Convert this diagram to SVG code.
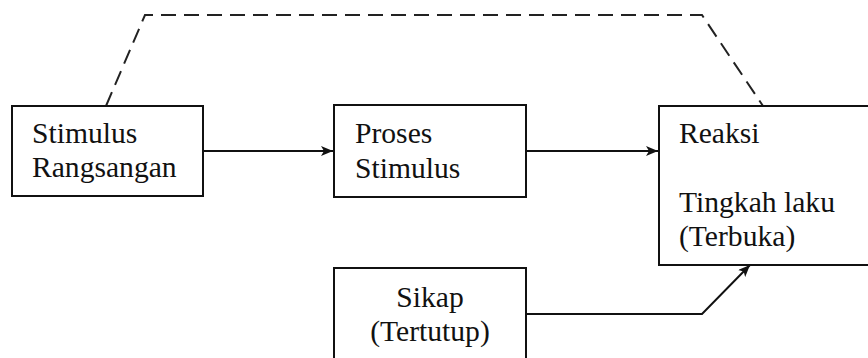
<svg xmlns="http://www.w3.org/2000/svg" width="868" height="358" viewBox="0 0 868 358">
<defs>
<style>
.box{fill:#fff;stroke:#111;stroke-width:2}
.t{font-family:"Liberation Serif","Times New Roman",serif;font-size:29.6px;fill:#111}
.c{fill:none;stroke:#111;stroke-width:2}
.d{fill:none;stroke:#222;stroke-width:2;stroke-dasharray:15 8}
</style>
<marker id="ah" viewBox="0 0 12 10" refX="12" refY="5" markerWidth="12" markerHeight="10" markerUnits="userSpaceOnUse" orient="auto">
<path d="M0,0 L12,5 L0,10 L3,5 Z" fill="#111"/>
</marker>
</defs>
<g id="connectors">
<path class="d" d="M106,106 L145,15 L702,15 L763,106"/>
<path class="c" d="M203,151 L333,151" marker-end="url(#ah)"/>
<path class="c" d="M526,151 L658,151" marker-end="url(#ah)"/>
<path class="c" d="M526,314 L702,314 L750,265" marker-end="url(#ah)"/>
</g>
<g id="stimulus">
<rect class="box" x="12" y="106" width="191" height="90"/>
<text class="t" x="32" y="143">Stimulus</text>
<text class="t" x="32" y="177">Rangsangan</text>
</g>
<g id="proses">
<rect class="box" x="334" y="105" width="192" height="92"/>
<text class="t" x="355" y="143">Proses</text>
<text class="t" x="355" y="178">Stimulus</text>
</g>
<g id="reaksi">
<rect class="box" x="659" y="106" width="220" height="159"/>
<text class="t" x="679" y="143">Reaksi</text>
<text class="t" x="679" y="212">Tingkah laku</text>
<text class="t" x="679" y="246">(Terbuka)</text>
</g>
<g id="sikap">
<rect class="box" x="334" y="268" width="192" height="100"/>
<text class="t" x="430" y="307" text-anchor="middle">Sikap</text>
<text class="t" x="430" y="341" text-anchor="middle">(Tertutup)</text>
</g>
</svg>
